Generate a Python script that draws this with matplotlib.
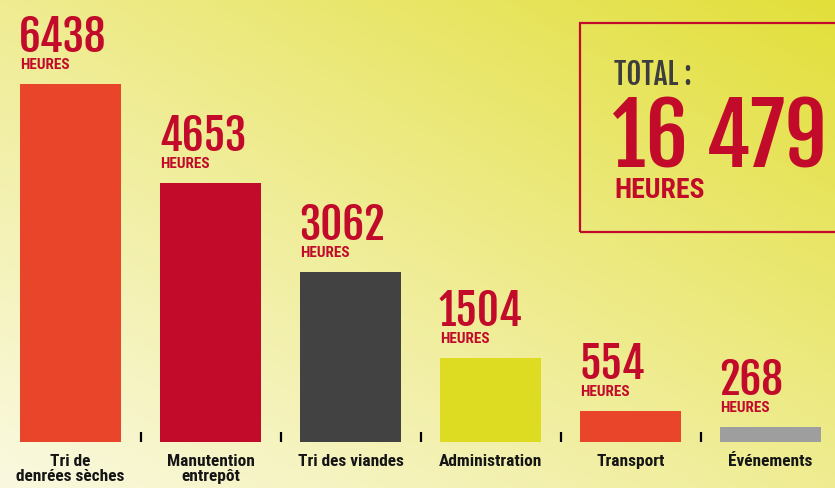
import numpy as np
import matplotlib
matplotlib.use('Agg')
import matplotlib.pyplot as plt
from matplotlib.patches import Rectangle
from matplotlib.colors import LinearSegmentedColormap

categories = ['Tri de\ndenrées sèches', 'Manutention\nentrepôt', 'Tri des viandes',
              'Administration', 'Transport', 'Événements']
hours = [6438, 4653, 3062, 1504, 554, 268]
colors = ['#E8452A', '#C20A2B', '#424242', '#DEDC22', '#E8452A', '#9E9E9E']
total_label = '16 479'
unit = 'HEURES'

RED = '#C20A2B'
FONT = ['Roboto Condensed', 'DejaVu Sans']
NUMFONT = ['Fjalla One', 'Roboto Condensed', 'DejaVu Sans']

W, H = 835, 489
fig = plt.figure(figsize=(W / 100, H / 100), dpi=100)

# diagonal gradient background: pale bottom-left -> yellow top-right
bg = fig.add_axes([0, 0, 1, 1], zorder=-1)
gx, gy = np.meshgrid(np.linspace(0, 1, 200), np.linspace(0, 1, 200))
grad = (gx + gy) / 2
cmap = LinearSegmentedColormap.from_list('bg', ['#FAF9E0', '#EFEC92', '#E2DF3A'])
bg.imshow(grad, cmap=cmap, origin='lower', extent=[0, 1, 0, 1], aspect='auto')
bg.set_axis_off()

# bar axes: bottom edge sits on the bar baseline
base_px = 46
scale = 358 / 6438  # pixels per hour
ax = fig.add_axes([0, base_px / H, 1, (H - base_px) / H])
ax.patch.set_alpha(0)
x = np.arange(len(hours))
bw = 101 / 140
ax.bar(x, hours, width=bw, color=colors)
ax.set_xlim(-70.5 / 140, (W - 70.5) / 140)
ax.set_ylim(0, (H - base_px) / scale)

for s in ax.spines.values():
    s.set_visible(False)
ax.set_yticks([])
ax.set_xticks(x)
ax.set_xticklabels(categories, family=FONT, fontweight='bold', fontsize=12.5,
                   color='#151515', linespacing=1.0, va='top')
ax.tick_params(axis='x', which='major', length=0, pad=8)
ax.set_xticks(x[:-1] + 0.5, minor=True)
ax.tick_params(axis='x', which='minor', direction='in', length=7.5, width=1.6,
               color='black')

for xi, v in zip(x, hours):
    ax.annotate(str(v), xy=(xi - bw / 2, v), xytext=(-1, 33),
                textcoords='offset pixels', ha='left', va='baseline',
                family=NUMFONT, fontsize=31, color=RED,
                annotation_clip=False)
    ax.annotate(unit, xy=(xi - bw / 2, v), xytext=(0, 16),
                textcoords='offset pixels', ha='left', va='baseline',
                family=FONT, fontweight='bold', fontsize=11, color=RED,
                annotation_clip=False)

# total box
fig.patches.append(Rectangle((580 / W, (H - 233) / H), 0.4, 209 / H,
                             transform=fig.transFigure, fill=False,
                             edgecolor=RED, linewidth=1.6))
fig.text(614 / W, (H - 85) / H, 'TOTAL :', family=NUMFONT,
         fontsize=21, color='#3D3D3D', ha='left', va='baseline')
fig.text(612 / W, (H - 168) / H, total_label, family=NUMFONT,
         fontsize=60, color=RED, ha='left', va='baseline')
fig.text(614 / W, (H - 198) / H, unit, family=FONT, fontweight='bold',
         fontsize=20, color=RED, ha='left', va='baseline')

fig.savefig('out.png', dpi=100)
